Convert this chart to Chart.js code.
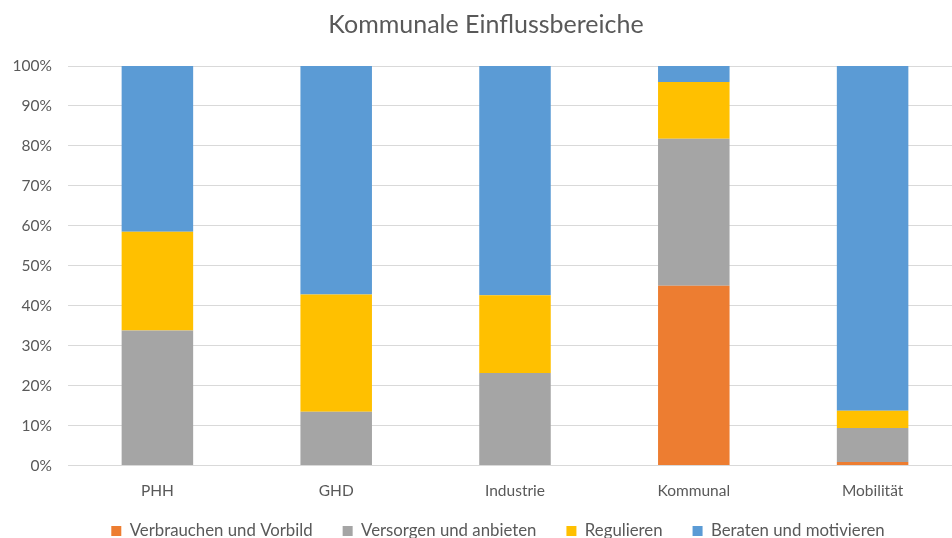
<!DOCTYPE html>
<html><head><meta charset="utf-8">
<script src="https://cdn.jsdelivr.net/npm/chart.js@4"></script>
<style>html,body{margin:0;padding:0;background:#fff;overflow:hidden;}#wrap{width:962px;height:538px;}</style>
</head><body><div id="wrap"><canvas id="c" width="962" height="538"></canvas></div>
<script>
const categories = ["PHH", "GHD", "Industrie", "Kommunal", "Mobilität"];
const verbrauchen = [0, 0, 0, 45, 0.9];
const versorgen = [33.8, 13.5, 23.2, 36.8, 8.5];
const regulieren = [24.7, 29.3, 19.4, 14.2, 4.3];
const beraten = [41.5, 57.2, 57.4, 4.0, 86.3];
const yTicks = [0, 10, 20, 30, 40, 50, 60, 70, 80, 90, 100];
const seriesNames = ["Verbrauchen und Vorbild", "Versorgen und anbieten", "Regulieren", "Beraten und motivieren"];
const colors = ["#ED7D31", "#A5A5A5", "#FFC000", "#5B9BD5"];
const FONT = "Lato";
const txt = "#595959";

const legendFix = {
  id: 'legendFix',
  beforeLayout(chart) {
    const lg = chart.legend;
    if (lg && !lg._patched) {
      const orig = lg.fit;
      lg.fit = function () { orig.call(this); this.height = 45.4; };
      lg._patched = true;
    }
  },
  afterLayout(chart) {
    const lg = chart.legend;
    if (lg) { lg.left += 12; lg.right += 12; }
  }
};

const series = [verbrauchen, versorgen, regulieren, beraten];
new Chart(document.getElementById('c'), {
  type: 'bar',
  data: {
    labels: categories,
    datasets: series.map((d, i) => ({
      label: seriesNames[i], data: d, backgroundColor: colors[i],
      borderWidth: 0, categoryPercentage: 1, barPercentage: 0.4
    }))
  },
  plugins: [legendFix],
  options: {
    responsive: false, animation: false,
    layout: { padding: { left: 10, right: 0, top: 10, bottom: 0 } },
    plugins: {
      title: { display: true, text: "Kommunale Einflussbereiche", color: txt,
        font: { family: FONT, size: 25, weight: 'normal' }, padding: { top: 0, bottom: 26 } },
      legend: { position: 'bottom', labels: { color: txt, boxWidth: 10, boxHeight: 10,
        font: { family: FONT, size: 16.8 }, padding: 30 } },
      tooltip: { enabled: false }
    },
    scales: {
      x: { stacked: true, grid: { display: false, drawTicks: false }, border: { color: '#D9D9D9' },
        afterFit: s => { s.height = 27; s._computeLabelArea = () => undefined; },
        ticks: { color: txt, font: { family: FONT, size: 15.5 }, padding: 16 } },
      y: { stacked: true, min: 0, max: 100,
        afterBuildTicks: s => { s.ticks = yTicks.map(v => ({ value: v })); },
        afterFit: s => { s.width = 58; },
        grid: { color: '#D9D9D9', drawTicks: false }, border: { display: false },
        ticks: { color: txt, font: { family: FONT, size: 15.5 }, padding: 16, callback: v => v + '%' } }
    }
  }
});
</script></body></html>
